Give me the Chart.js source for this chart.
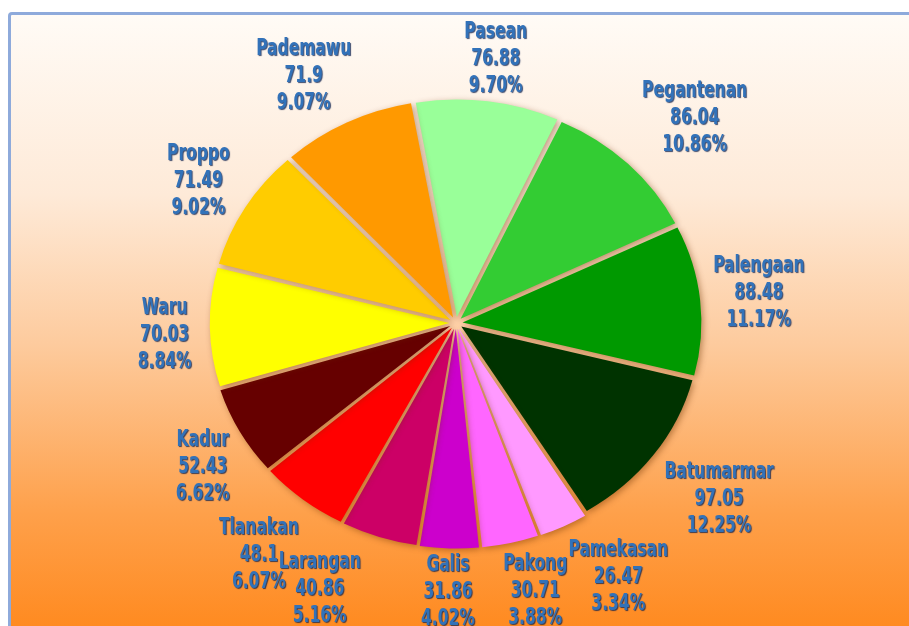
<!DOCTYPE html>
<html lang="id">
<head>
<meta charset="UTF-8">
<title>Kecamatan</title>
<script src="https://cdn.jsdelivr.net/npm/chart.js"></script>
<style>
  html, body { margin: 0; padding: 0; background: #fff; overflow: hidden; }
  .wrap { position: relative; width: 909px; height: 626px; overflow: hidden; }
  .frame {
    position: absolute; left: 8px; top: 12px; width: 920px; height: 640px;
    border-left: 3px solid #8eaadb; border-top: 3px solid #8eaadb; border-top-left-radius: 4px;
    background: linear-gradient(to bottom, #fffbf6 0%, #feead8 28%, #fdca9c 52%, #fea04a 78%, #ff8516 100%);
  }
  canvas { position: absolute; left: 0; top: 0; }
</style>
</head>
<body>
<div class="wrap">
  <div class="frame"></div>
  <canvas id="pie" width="909" height="626"></canvas>
</div>

<script>
// luas per kecamatan, urut searah jarum jam mulai dari atas
const kecamatan = ['Pasean', 'Pegantenan', 'Palengaan', 'Batumarmar', 'Pamekasan', 'Pakong',
  'Galis', 'Larangan', 'Tlanakan', 'Kadur', 'Waru', 'Proppo', 'Pademawu'];
const nilai = [76.88, 86.04, 88.48, 97.05, 26.47, 30.71, 31.86, 40.86, 48.1, 52.43, 70.03, 71.49, 71.9];
const warna = ['#99ff99', '#33cc33', '#009900', '#003300', '#ff99ff', '#ff66ff',
  '#cc00cc', '#cc0066', '#ff0000', '#660000', '#ffff00', '#ffcc00', '#ff9900'];

// geser label yang bertumpukan
const geserLabel = {
  Pasean: [0, 12], Pegantenan: [5, 5], Proppo: [-5, 12], Galis: [0, -8],
  Larangan: [-37, 0], Pamekasan: [18, 0], Pakong: [12, -4],
  Tlanakan: [0, 5], Waru: [-6, 7], Pademawu: [-6, 6]
};

const stretchX = 1.1;   // pie sedikit melebar
const gap = 22;
const lineH = 27;
const fontX = 0.75;     // huruf dipersempit

const pieLabels = {
  id: 'pieLabels',
  beforeDatasetsDraw(chart) {
    const ctx = chart.ctx;
    const el = chart.getDatasetMeta(0).data[0];
    ctx.save();
    ctx.translate(el.x, el.y);
    ctx.scale(stretchX, 1);
    ctx.translate(-el.x, -el.y);
    ctx.shadowColor = 'rgba(110,50,0,0.45)';
    ctx.shadowBlur = 6;
    ctx.shadowOffsetX = 2;
    ctx.shadowOffsetY = 2;
  },
  afterDatasetsDraw(chart) {
    const ctx = chart.ctx;
    ctx.restore();
    const meta = chart.getDatasetMeta(0);
    const total = nilai.reduce((a, b) => a + b, 0);
    const clamp = v => Math.max(-1, Math.min(1, v * 1.5));

    ctx.save();
    ctx.font = 'bold 23px "DejaVu Sans Condensed", "DejaVu Sans", sans-serif';
    ctx.textAlign = 'center';
    ctx.textBaseline = 'middle';
    ctx.fillStyle = '#3272b9';
    ctx.shadowColor = 'rgba(15,35,80,0.8)';
    ctx.shadowOffsetX = 1;
    ctx.shadowOffsetY = 1;
    ctx.shadowBlur = 1;

    meta.data.forEach((el, i) => {
      const { x, y, startAngle, endAngle, outerRadius } =
        el.getProps(['x', 'y', 'startAngle', 'endAngle', 'outerRadius'], true);
      const mid = (startAngle + endAngle) / 2;
      const c = Math.cos(mid), s = Math.sin(mid);
      const lines = [kecamatan[i], String(nilai[i]), (nilai[i] / total * 100).toFixed(2) + '%'];
      const w = Math.max(...lines.map(t => ctx.measureText(t).width)) * fontX;
      const h = lines.length * lineH;
      let lx = x + (outerRadius * stretchX + gap) * c + clamp(c) * w / 2;
      let ly = y + (outerRadius + gap) * s + clamp(s) * h / 2;
      const g = geserLabel[kecamatan[i]];
      if (g) { lx += g[0]; ly += g[1]; }
      lines.forEach((t, k) => {
        ctx.save();
        ctx.translate(lx, ly + (k - 1) * lineH);
        ctx.scale(fontX, 1);
        ctx.fillText(t, 0, 0);
        ctx.restore();
      });
    });
    ctx.restore();
  }
};

new Chart(document.getElementById('pie'), {
  type: 'pie',
  data: {
    labels: kecamatan,
    datasets: [{
      data: nilai,
      backgroundColor: warna,
      borderWidth: 0,
      offset: 24
    }]
  },
  options: {
    responsive: false,
    animation: false,
    rotation: -10,
    radius: 215,
    layout: { padding: { top: 20, left: 3 } },
    plugins: {
      legend: { display: false },
      tooltip: { enabled: false }
    }
  },
  plugins: [pieLabels]
});
</script>
</body>
</html>
